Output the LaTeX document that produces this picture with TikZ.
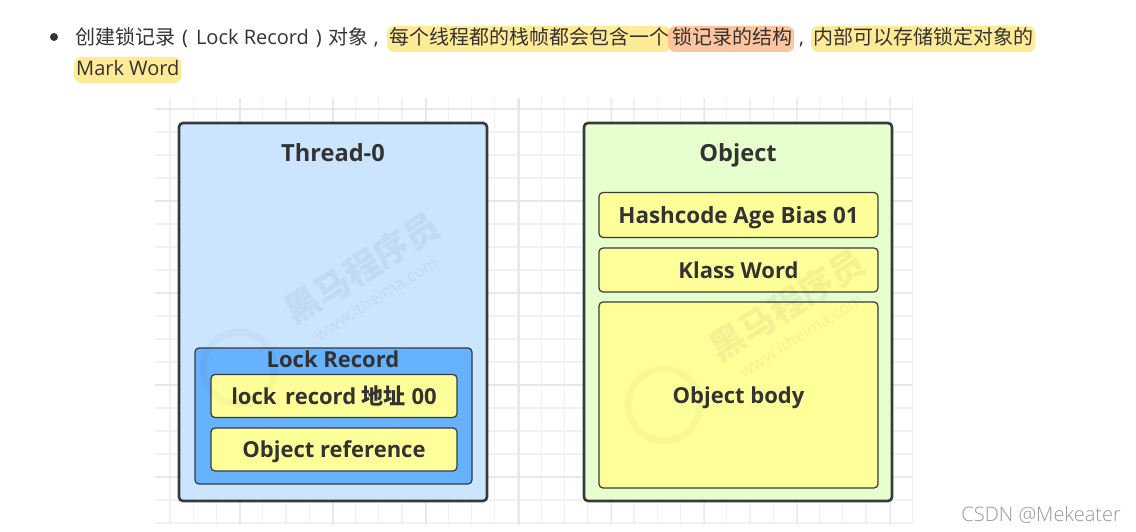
\documentclass[tikz,border=0pt]{standalone}
\usepackage{fontspec}
\setmainfont{Open Sans}
\newfontfamily\cjk{Noto Sans CJK SC}
\newfontfamily\cssdn{Open Sans Light}
\usetikzlibrary{positioning}
\definecolor{inktext}{HTML}{333333}
\definecolor{boxline}{HTML}{36393D}
\definecolor{threadblue}{HTML}{CCE5FF}
\definecolor{recordblue}{HTML}{66B2FF}
\definecolor{objgreen}{HTML}{E6FFCC}
\definecolor{slotyellow}{HTML}{FFFF99}
\definecolor{markyellow}{HTML}{FFEA96}
\definecolor{markorange}{HTML}{FFBC8E}
\definecolor{gridthin}{HTML}{F1F1F1}
\definecolor{gridthick}{HTML}{E8E8E8}
\tikzset{
    outerbox/.style={draw=boxline, line width=2.6pt, rounded corners=4pt, inner sep=0pt},
    recordbox/.style={draw=boxline, line width=1.2pt, rounded corners=4pt, inner sep=0pt, fill=recordblue},
    slotbox/.style={draw=boxline, line width=1.2pt, rounded corners=4pt, inner sep=0pt, fill=slotyellow,
        text=inktext, text height=16pt, text depth=0pt, font=\fontsize{22}{26}\selectfont\bfseries},
    titletext/.style={text=inktext, inner sep=0pt, text height=17pt, text depth=0pt, font=\fontsize{23.6}{28}\selectfont\bfseries},
    linetext/.style={anchor=base west, inner sep=0pt, text=inktext, font=\fontsize{20}{24}\selectfont},
    marktext/.style={linetext, rounded corners=7pt, text height=19pt, text depth=7pt, inner xsep=2pt},
    watermark/.style={black, opacity=0.05, inner sep=0pt, rotate=32},
}

\begin{document}
\begin{tikzpicture}[x=1pt, y=-1pt]
    \useasboundingbox[fill=white] (0,0) rectangle (1136,532);

    % grid behind the boxes
    \foreach \i in {0,...,32} {
        \draw[gridthin, line width=1.2pt] ({170+23.2*\i},98) -- ({170+23.2*\i},525);
    }
    \foreach \i in {0,...,18} {
        \draw[gridthin, line width=1.2pt] (155,{109+23*\i}) -- (913,{109+23*\i});
    }
    \foreach \i in {0,...,7} {
        \draw[gridthick, line width=1.6pt] ({240+92.9*\i},98) -- ({240+92.9*\i},525);
    }
    \foreach \i in {0,...,4} {
        \draw[gridthick, line width=1.6pt] (155,{109+92*\i}) -- (913,{109+92*\i});
    }

    % text above the diagram
    \node[circle, fill=inktext, inner sep=0pt, minimum size=8pt] (bullet) at (54,37) {};
    \node[linetext] (lead) at (75,45) {{\cjk 创建锁记录}\hspace{7pt}(\hspace{8pt}Lock Record\hspace{7pt})\hspace{7pt}{\cjk 对象}\hspace{5pt},};
    \node[marktext, fill=markyellow] (mark1) at (387,45) {{\cjk 每个线程都的栈帧都会包含一个}};
    \node[marktext, fill=markorange, fill opacity=0.85, text opacity=1] (mark2) at (668,45) {\hspace{2pt}{\cjk 锁记录的结构}};
    \node[linetext] (comma) at (799,45) {,};
    \node[marktext, fill=markyellow] (mark3) at (811,45) {{\cjk 内部可以存储锁定对象的}};
    \node[marktext, fill=markyellow] (mark4) at (74,76) {Mark Word};

    % left box
    \node[outerbox, fill=threadblue, minimum width=308pt, minimum height=378pt] (thread) at (333,312) {};
    \node[titletext] (threadname) at (333,153) {Thread-0};
    \node[recordbox, minimum width=277pt, minimum height=136pt] (record) at (333.5,416) {};
    \node[titletext, font=\fontsize{22}{26}\selectfont\bfseries] (recordname) at (333,359) {Lock Record};
    \node[slotbox, minimum width=246pt, minimum height=43pt] (address) at (334,396) {lock\hspace{3pt} record {\cjk 地址} 00};
    \node[slotbox, below=9.3pt of address, minimum width=246pt, minimum height=43pt] (reference) {Object reference};

    % right box
    \node[outerbox, fill=objgreen, minimum width=308pt, minimum height=378pt] (object) at (738,312) {};
    \node[titletext] (objectname) at (738,153) {Object};
    \node[slotbox, minimum width=279pt, minimum height=45pt, font=\fontsize{22.4}{26}\selectfont\bfseries] (hashcode) at (738.5,215) {Hashcode Age Bias 01};
    \node[slotbox, minimum width=279pt, minimum height=44pt] (klass) at (738.5,270) {Klass Word};
    \node[slotbox, minimum width=279pt, minimum height=186pt] (body) at (738.5,395) {Object body};

    % faint stamps over the boxes
    \node[watermark, font=\cjk\fontsize{35}{40}\selectfont\bfseries] (stamp1) at (362,268) {黑马程序员};
    \node[watermark, font=\fontsize{17}{20}\selectfont] (site1) at (376,298) {www.itheima.com};
    \draw[black, opacity=0.03, line width=7pt] (239,368) circle (36pt);
    \node[watermark, font=\cjk\fontsize{35}{40}\selectfont\bfseries] (stamp2) at (787,305) {黑马程序员};
    \node[watermark, font=\fontsize{17}{20}\selectfont] (site2) at (801,335) {www.itheima.com};
    \draw[black, opacity=0.03, line width=7pt] (664,405) circle (36pt);

    \node[anchor=base east, inner sep=0pt, text=black!40, font=\cssdn\fontsize{20}{24}\selectfont] (credit) at (1121,521) {CSDN @Mekeater};
\end{tikzpicture}
\end{document}
